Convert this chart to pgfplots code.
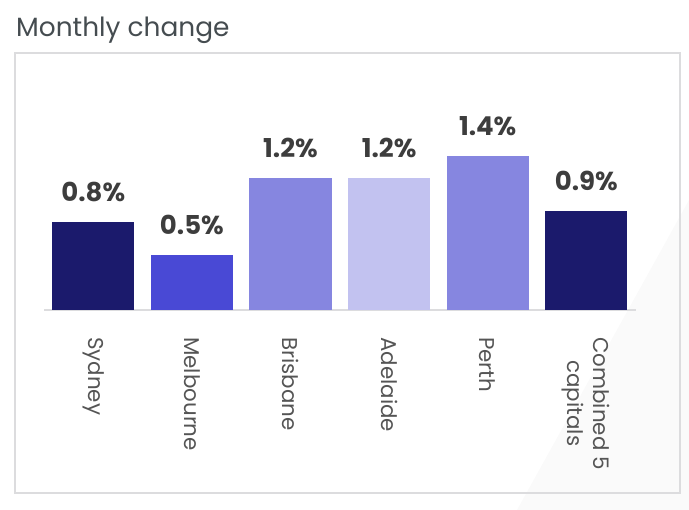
\documentclass[border=0pt]{standalone}
\usepackage{fontspec}
\setmainfont{Poppins}
\usepackage{pgfplots}
\pgfplotsset{compat=1.18}
\definecolor{navy}{HTML}{1B1A6C}
\definecolor{royal}{HTML}{4949D5}
\definecolor{lav}{HTML}{8686E0}
\definecolor{pale}{HTML}{C2C2F0}
\definecolor{boxgray}{HTML}{DCDCDE}
\definecolor{titlegray}{HTML}{454C50}
\definecolor{valgray}{HTML}{3D3D3D}
\definecolor{labgray}{HTML}{555555}
\begin{document}
\begin{tikzpicture}[x=1pt,y=1pt]
\path[use as bounding box] (0,0) rectangle (689,510);
% faint background wedge
\fill[black!2] (689,310) -- (517,0) -- (689,0) -- cycle;
% frame
\draw[boxgray, line width=2pt] (15,17) rectangle (680,457);
\node[anchor=base west, inner sep=0, font=\fontsize{26.4}{31}\selectfont, text=titlegray]
  at (16,473) {Monthly change};
\begin{axis}[
  at={(44pt,200pt)}, anchor=south west,
  x=98.6pt, y=110pt,
  xmin=-0.5, xmax=5.5, ymin=0, ymax=1.5,
  axis x line*=bottom, axis y line=none,
  axis line style={-, boxgray, line width=1.5pt},
  ytick=\empty,
  xtick={0,...,5},
  xticklabels={Sydney,Melbourne,Brisbane,Adelaide,Perth,{Combined 5\\capitals}},
  major tick length=0pt,
  xticklabel style={yshift=-27pt, rotate=-90, anchor=west, inner sep=0pt,
    align=center, font=\fontsize{21.4}{26}\selectfont, text=labgray},
  ybar, bar width=82pt, bar shift=0pt,
  clip=false,
  /pgf/number format/assume math mode=true,
  nodes near coords={\pgfmathprintnumber[fixed,fixed zerofill,precision=1]{\pgfplotspointmeta}\%},
  every node near coord/.append style={anchor=south, inner sep=0pt, yshift=20pt,
    font=\fontsize{26}{30}\selectfont\bfseries, text=valgray},
]
\addplot[draw=none, fill=navy]  coordinates {(0,0.8)};
\addplot[draw=none, fill=royal] coordinates {(1,0.5)};
\addplot[draw=none, fill=lav]   coordinates {(2,1.2)};
\addplot[draw=none, fill=pale]  coordinates {(3,1.2)};
\addplot[draw=none, fill=lav]   coordinates {(4,1.4)};
\addplot[draw=none, fill=navy]  coordinates {(5,0.9)};
\end{axis}
\end{tikzpicture}
\end{document}
